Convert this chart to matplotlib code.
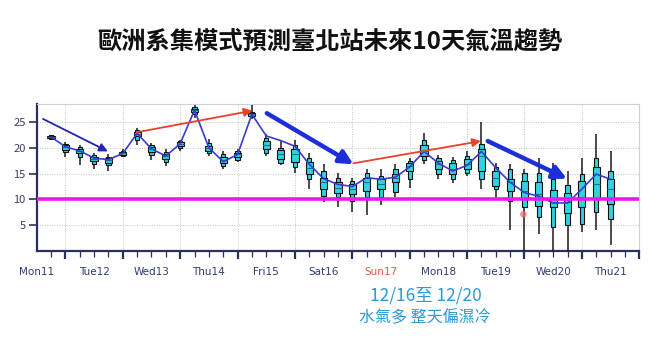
import numpy as np
import matplotlib.pyplot as plt
from matplotlib.transforms import blended_transform_factory

plt.rcParams['font.family'] = ['Noto Sans CJK TC', 'DejaVu Sans']

# 6-hourly steps, in days after Mon11 00UTC
steps = np.arange(1, 41) * 0.25

# ensemble spread (min / 10% / 25% / median / 75% / 90% / max)
t_max = [22.5, 21.1, 20.6, 19.0, 18.7, 19.7, 23.8, 21.0, 19.7, 21.6,
         28.3, 21.7, 19.4, 19.7, 28.2, 22.6, 21.3, 21.6, 19.0, 16.8,
         15.2, 14.2, 15.9, 15.8, 16.8, 18.1, 22.9, 18.6, 18.3, 19.3,
         25.0, 17.1, 16.8, 15.8, 18.1, 17.1, 15.5, 18.1, 22.6, 19.4]
t_p90 = [22.4, 20.8, 20.1, 18.6, 18.3, 19.4, 23.4, 20.5, 19.2, 21.4,
         27.9, 20.9, 18.7, 19.3, 27.0, 21.9, 20.0, 20.6, 18.0, 15.5,
         14.2, 13.6, 15.2, 14.5, 15.8, 17.4, 21.6, 18.1, 17.6, 18.4,
         20.8, 16.2, 15.8, 15.2, 15.2, 13.9, 12.7, 14.9, 18.0, 15.5]
t_p75 = [22.3, 20.5, 19.8, 18.3, 18.0, 19.2, 23.1, 20.1, 18.8, 21.1,
         27.6, 20.4, 18.3, 19.0, 26.7, 21.3, 19.5, 19.8, 17.2, 14.2,
         13.3, 12.9, 14.2, 13.9, 14.9, 17.1, 20.6, 17.4, 17.1, 17.8,
         19.8, 15.5, 13.9, 13.6, 13.3, 11.8, 11.3, 13.6, 16.2, 14.0]
t_med = [22.1, 20.1, 19.4, 17.9, 17.6, 18.9, 22.7, 19.7, 18.4, 20.8,
         27.3, 19.9, 17.6, 18.7, 26.5, 20.6, 18.7, 18.7, 16.0, 13.3,
         12.3, 12.0, 13.3, 12.9, 14.2, 16.5, 19.3, 16.8, 15.8, 16.8,
         18.5, 14.2, 13.3, 11.7, 11.0, 9.5, 9.5, 10.4, 12.9, 12.0]
t_p25 = [21.9, 19.6, 18.9, 17.4, 17.1, 18.6, 22.2, 19.2, 17.9, 20.4,
         26.9, 19.4, 17.0, 18.3, 26.2, 19.8, 17.8, 17.2, 15.0, 12.0,
         11.3, 11.0, 11.7, 12.0, 13.3, 15.5, 18.4, 15.8, 14.9, 15.8,
         15.5, 12.6, 11.7, 10.1, 8.8, 8.5, 7.4, 8.5, 10.1, 9.1]
t_p10 = [21.8, 19.2, 18.2, 16.8, 16.6, 18.4, 21.5, 18.6, 17.3, 19.9,
         26.5, 18.9, 16.4, 17.7, 25.9, 19.0, 17.1, 16.2, 14.0, 10.7,
         10.4, 9.7, 10.4, 10.4, 11.4, 13.9, 17.7, 14.9, 13.9, 15.2,
         13.9, 12.0, 9.7, 8.5, 6.5, 4.7, 5.0, 5.2, 7.6, 6.2]
t_min = [21.6, 18.3, 16.7, 15.8, 15.5, 18.2, 20.6, 17.6, 16.5, 19.3,
         25.8, 18.5, 15.8, 17.2, 25.6, 18.4, 16.6, 15.2, 12.0, 9.5,
         8.5, 7.5, 6.9, 9.0, 10.4, 12.3, 16.8, 13.9, 13.1, 14.5,
         12.1, 10.1, 4.0, -1.0, 3.3, -1.0, -1.0, 3.7, 4.0, 1.1]

# high resolution run (blue line)
t_hres = [22.1, 20.2, 19.4, 18.0, 17.7, 18.9, 22.8, 19.8, 18.4, 20.8,
          27.3, 20.0, 17.3, 18.7, 26.5, 22.3, 21.4, 20.3, 16.8, 14.0,
          12.9, 12.5, 14.2, 13.9, 14.3, 16.3, 19.3, 17.0, 15.5, 16.6,
          19.3, 16.1, 13.3, 11.3, 10.6, 9.3, 9.3, 12.0, 14.9, 13.9]

day_labels = ['Mon11', 'Tue12', 'Wed13', 'Thu14', 'Fri15', 'Sat16',
              'Sun17', 'Mon18', 'Tue19', 'Wed20', 'Thu21']

# hand-drawn trend arrows: (x0, y0, x1, y1, colour, line width)
trends = [
    (0.11, 25.6, 1.24, 19.3, '#2323b5', 1.3),
    (1.74, 23.0, 3.76, 27.2, '#e8412c', 1.3),
    (4.01, 26.7, 5.52, 16.8, '#1c2fd8', 3.2),
    (5.52, 17.0, 7.74, 21.3, '#e8412c', 1.3),
    (7.86, 21.3, 9.24, 14.0, '#1c2fd8', 3.2),
]

cold_line = 10
red_dot = (8.48, 7.1)

fig = plt.figure(figsize=(6.6, 3.5), dpi=100)
ax = fig.add_axes([0.0556, 0.283, 0.913, 0.42])

navy = '#2c2f5e'
ax.vlines(steps, t_min, t_max, color='#1a1a1a', lw=1.1, zorder=3)
outer = np.array(t_p90) - np.array(t_p10)
inner = np.array(t_p75) - np.array(t_p25)
ax.bar(steps, outer, bottom=t_p10, width=0.075, color='#2fd3e0',
       edgecolor='#111111', lw=0.8, zorder=4)
ax.bar(steps, inner, bottom=t_p25, width=0.125, color='#2fd3e0',
       edgecolor='#111111', lw=0.8, zorder=5)
ax.hlines(t_med, steps - 0.0625, steps + 0.0625, color='#1f6f86', lw=0.8, zorder=6)
ax.plot(steps, t_hres, color='#3b3bd0', lw=1.2, zorder=7)

ax.axhline(cold_line, color='#ee18ee', lw=2.6, zorder=8)
ax.scatter(*red_dot, s=22, color='#f06a6a', alpha=0.75, edgecolors='none', zorder=8)

for x0, y0, x1, y1, c, w in trends:
    head = 8 if w > 2 else 5
    ax.annotate('', xy=(x1, y1), xytext=(x0, y0), zorder=9,
                arrowprops=dict(arrowstyle=f'-|>,head_length={head/10:.1f},head_width={head/20:.2f}',
                                color=c, lw=w, shrinkA=0, shrinkB=0))

ax.set_xlim(0, 10.5)
ax.set_ylim(0, 28.5)
ax.set_yticks([5, 10, 15, 20, 25])
ax.set_xticks(np.arange(0.5, 10.6, 1.0))
ax.set_xticks(np.arange(0.25, 10.5, 0.25), minor=True)
ax.set_xticklabels([])
ax.tick_params(axis='x', which='major', length=6, width=1.6, color=navy, direction='out')
ax.tick_params(axis='x', which='minor', length=4, width=0.9, color=navy, direction='out')
ax.tick_params(axis='y', length=6, width=1.2, color=navy, labelsize=8, labelcolor='#3a3f62', pad=2)

ax.grid(True, axis='both', which='major', color='#c4c4c4', lw=0.7, ls=(0, (1, 1.5)))
ax.set_axisbelow(True)

for s in ['left', 'bottom']:
    ax.spines[s].set_color(navy)
    ax.spines[s].set_linewidth(1.6)
for s in ['top', 'right']:
    ax.spines[s].set_color('#cfcfcf')
    ax.spines[s].set_linewidth(0.8)

tr = blended_transform_factory(ax.transData, ax.transAxes)
for i, lab in enumerate(day_labels):
    col = '#e05a3f' if lab.startswith('Sun') else '#2f3d70'
    ax.text(i, -0.14, lab, transform=tr, ha='center', va='center',
            fontsize=7.5, color=col, family=['DejaVu Sans'])

fig.text(0.5, 1 - 42 / 350, '歐洲系集模式預測臺北站未來10天氣溫趨勢',
         ha='center', va='center', fontsize=17.5, fontweight='bold', color='#111111')
fig.text(426 / 660, 1 - 296 / 350, '12/16至 12/20', ha='center', va='center',
         fontsize=12.5, color='#2b9ad6')
fig.text(425 / 660, 1 - 318 / 350, '水氣多 整天偏濕冷', ha='center', va='center',
         fontsize=11.5, color='#2b9ad6')

fig.savefig('out.png', dpi=100, facecolor='white')
